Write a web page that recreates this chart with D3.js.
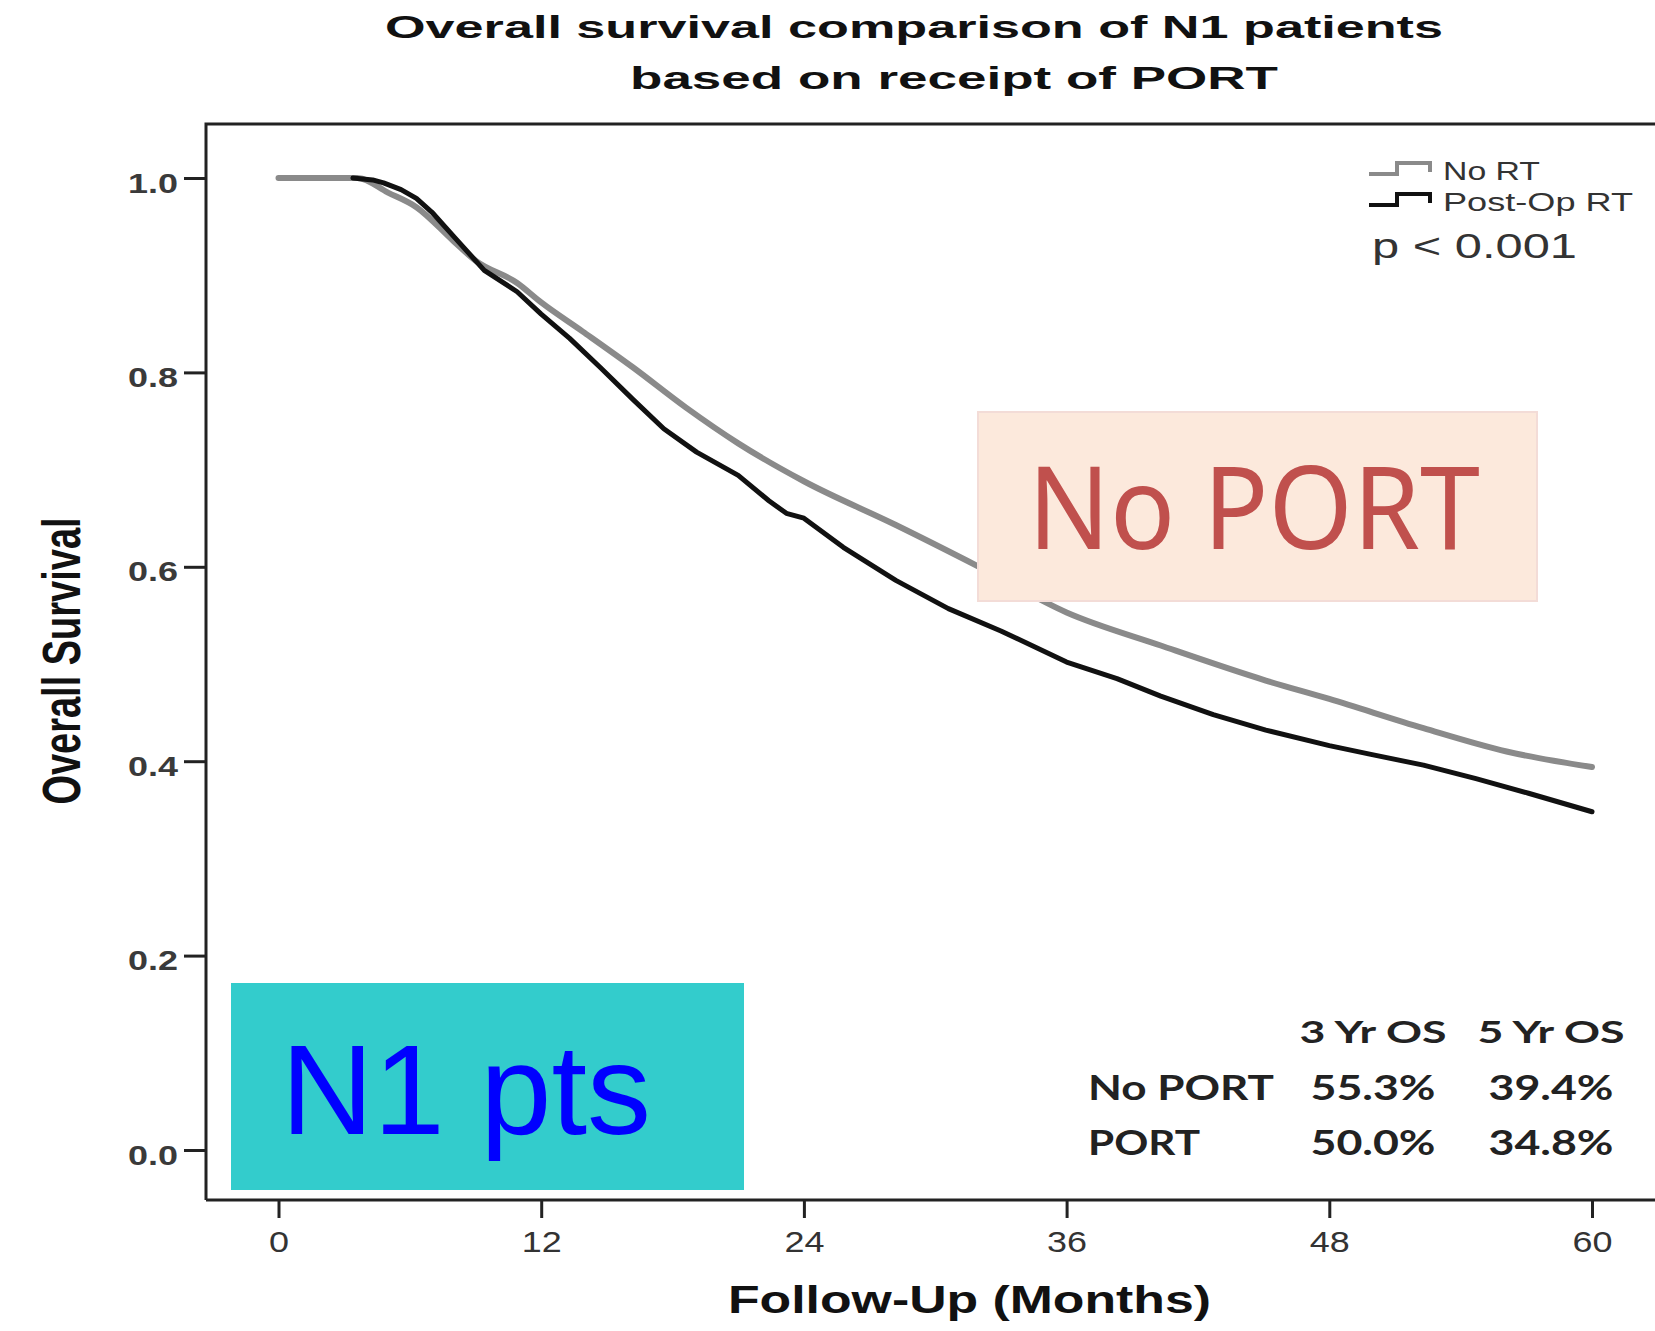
<!DOCTYPE html>
<html>
<head>
<meta charset="utf-8">
<script src="https://cdn.jsdelivr.net/npm/d3@7"></script>
<style>
  html, body { margin: 0; padding: 0; background: #fff; }
  svg { display: block; }
</style>
</head>
<body>
<div id="grafica"></div>
<script>
// Kaplan-Meier curves (months, survival)
const noRtMonths   = [0, 3.6, 5.0, 6.3, 8.0, 9.0, 10.9, 12.0, 13.9, 16.2, 18.6, 21.0, 24.0, 28.2, 32.0, 36.0, 40.3, 45.1, 48.0, 52.3, 56.1, 60.0]
const noRtSurvival = [1.0, 1.0, 0.985, 0.970, 0.935, 0.915, 0.892, 0.872, 0.842, 0.805, 0.764, 0.727, 0.688, 0.643, 0.600, 0.553, 0.519, 0.483, 0.464, 0.434, 0.410, 0.394]

const postOpMonths   = [3.4, 4.3, 4.8, 5.6, 6.3, 7.0, 8.0, 9.4, 10.9, 12.0, 13.3, 14.7, 16.2, 17.6, 19.1, 21.0, 22.4, 23.2, 24.0, 25.8, 28.2, 30.6, 33.0, 36.0, 38.3, 40.3, 42.7, 45.1, 48.0, 49.9, 52.3, 54.7, 57.1, 60.0]
const postOpSurvival = [1.0, 0.998, 0.995, 0.988, 0.979, 0.965, 0.940, 0.905, 0.883, 0.860, 0.835, 0.805, 0.772, 0.742, 0.718, 0.694, 0.668, 0.655, 0.650, 0.620, 0.586, 0.557, 0.534, 0.502, 0.485, 0.467, 0.448, 0.432, 0.416, 0.407, 0.396, 0.382, 0.367, 0.348]

const xTicks = [0, 12, 24, 36, 48, 60]
const yTicks = [0, 0.2, 0.4, 0.6, 0.8, 1.0]

const legendLabels = ["No RT", "Post-Op RT"]
const tableCols = ["3 Yr OS", "5 Yr OS"]
const tableRows = ["No PORT", "PORT"]
const tableValues = [["55.3%", "39.4%"], ["50.0%", "34.8%"]]

const width = 1655
const height = 1331

// frame of the plot
const frameLeft = 206, frameTop = 124, frameBottom = 1200

const xScale = d3.scaleLinear().domain([0, 60]).range([278.5, 1592])
const yScale = d3.scaleLinear().domain([0, 1]).range([1150, 178])

const svg = d3.select('#grafica')
  .append("svg")
  .attr("width", width)
  .attr("height", height)
  .style("font-family", "'Liberation Sans', Arial, sans-serif")

svg.append("rect").attr("width", width).attr("height", height).attr("fill", "#fff")

// title (the original picture is stretched sideways)
svg.append("text")
  .attr("x", 385).attr("y", 38)
  .attr("font-size", 32).attr("font-weight", "bold").attr("fill", "#111")
  .attr("textLength", 1058).attr("lengthAdjust", "spacingAndGlyphs")
  .text("Overall survival comparison of N1 patients")
svg.append("text")
  .attr("x", 630).attr("y", 89)
  .attr("font-size", 32).attr("font-weight", "bold").attr("fill", "#111")
  .attr("textLength", 648).attr("lengthAdjust", "spacingAndGlyphs")
  .text("based on receipt of PORT")

// frame lines
svg.append("path")
  .attr("d", `M${frameLeft},${frameBottom}V${frameTop}H${width + 5}`)
  .attr("fill", "none").attr("stroke", "#222").attr("stroke-width", 3)
svg.append("path")
  .attr("d", `M${frameLeft},${frameBottom}H${width + 5}`)
  .attr("fill", "none").attr("stroke", "#222").attr("stroke-width", 3)

// axes
const yAxis = d3.axisLeft(yScale)
  .tickValues(yTicks)
  .tickFormat(d3.format(".1f"))
  .tickSize(22).tickSizeOuter(0).tickPadding(6)

const gy = svg.append("g")
  .attr("transform", "translate(" + frameLeft + ",0)")
  .call(yAxis)
gy.select(".domain").remove()
gy.selectAll(".tick line").attr("stroke", "#222").attr("stroke-width", 3)
gy.selectAll(".tick text")
  .attr("font-size", 28).attr("font-weight", "bold").attr("fill", "#3a3a3a")
  .attr("font-family", "'Liberation Sans', Arial, sans-serif")
  .attr("dy", "0.5em")
  .attr("textLength", 50).attr("lengthAdjust", "spacingAndGlyphs")

const xAxis = d3.axisBottom(xScale)
  .tickValues(xTicks)
  .tickSize(18).tickSizeOuter(0).tickPadding(13)

const gx = svg.append("g")
  .attr("transform", "translate(0," + frameBottom + ")")
  .call(xAxis)
gx.select(".domain").remove()
gx.selectAll(".tick line").attr("stroke", "#222").attr("stroke-width", 3)
gx.selectAll(".tick text")
  .attr("font-size", 30).attr("fill", "#333")
  .attr("font-family", "'Liberation Sans', Arial, sans-serif")
  .attr("textLength", d => String(d).length * 20).attr("lengthAdjust", "spacingAndGlyphs")

// axis titles
svg.append("text")
  .attr("x", 728).attr("y", 1313)
  .attr("font-size", 38).attr("font-weight", "bold").attr("fill", "#111")
  .attr("textLength", 483).attr("lengthAdjust", "spacingAndGlyphs")
  .text("Follow-Up (Months)")

svg.append("text")
  .attr("transform", "translate(80,661) scale(1.4,1) rotate(-90)")
  .attr("text-anchor", "middle")
  .attr("font-size", 38).attr("font-weight", "bold").attr("fill", "#111")
  .text("Overall Survival")

// curves
const noRtData = noRtMonths.map((m, i) => [m, noRtSurvival[i]])
const postOpData = postOpMonths.map((m, i) => [m, postOpSurvival[i]])

svg.append("path")
  .datum(noRtData)
  .attr("fill", "none").attr("stroke", "#8a8a8a").attr("stroke-width", 6)
  .attr("stroke-linecap", "round").attr("stroke-linejoin", "round")
  .attr("d", d3.line().x(d => xScale(d[0])).y(d => yScale(d[1])).curve(d3.curveMonotoneX))

svg.append("path")
  .datum(postOpData)
  .attr("fill", "none").attr("stroke", "#111").attr("stroke-width", 5)
  .attr("stroke-linecap", "round").attr("stroke-linejoin", "round")
  .attr("d", d3.line().x(d => xScale(d[0])).y(d => yScale(d[1])))

// legend
const legendColors = ["#8a8a8a", "#111"]
const legendY = [174, 205]
legendLabels.forEach((lab, i) => {
  const y0 = legendY[i]
  svg.append("path")
    .attr("d", `M1369,${y0}H1397V${y0 - 11}H1430V${y0 - 2}`)
    .attr("fill", "none").attr("stroke", legendColors[i]).attr("stroke-width", 4)
  svg.append("text")
    .attr("x", 1443).attr("y", y0 + 6)
    .attr("font-size", 25).attr("fill", "#333")
    .attr("textLength", i == 0 ? 97 : 190).attr("lengthAdjust", "spacingAndGlyphs")
    .text(lab)
})
svg.append("text")
  .attr("x", 1372).attr("y", 258)
  .attr("font-size", 35).attr("fill", "#333")
  .attr("textLength", 205).attr("lengthAdjust", "spacingAndGlyphs")
  .text("p < 0.001")

// table of 3 / 5 year survival
const colCenters = [1373, 1551]
tableCols.forEach((c, j) => {
  svg.append("text")
    .attr("x", colCenters[j]).attr("y", 1043).attr("text-anchor", "middle")
    .attr("font-family", "Lato, 'Open Sans', sans-serif")
    .attr("font-size", 30).attr("font-weight", "bold").attr("fill", "#222")
    .attr("textLength", 147).attr("lengthAdjust", "spacingAndGlyphs")
    .text(c)
})
const rowBase = [1100, 1155]
tableRows.forEach((r, i) => {
  svg.append("text")
    .attr("x", 1088).attr("y", rowBase[i])
    .attr("font-family", "Lato, 'Open Sans', sans-serif")
    .attr("font-size", 34).attr("font-weight", "bold").attr("fill", "#222")
    .attr("textLength", i == 0 ? 186 : 112).attr("lengthAdjust", "spacingAndGlyphs")
    .text(r)
  tableValues[i].forEach((v, j) => {
    svg.append("text")
      .attr("x", colCenters[j]).attr("y", rowBase[i]).attr("text-anchor", "middle")
      .attr("font-family", "Lato, 'Open Sans', sans-serif")
      .attr("font-size", 34).attr("font-weight", "bold").attr("fill", "#222")
      .attr("textLength", 125).attr("lengthAdjust", "spacingAndGlyphs")
      .text(v)
  })
})

// pasted-on labels
svg.append("rect")
  .attr("x", 978).attr("y", 412).attr("width", 559).attr("height", 189)
  .attr("fill", "#fce9dc").attr("stroke", "#f3dcd7").attr("stroke-width", 2)
svg.append("text")
  .attr("x", 1028).attr("y", 549)
  .attr("font-family", "'Noto Sans', 'Open Sans', sans-serif")
  .attr("font-size", 116).attr("fill", "#c0504d")
  .attr("textLength", 452).attr("lengthAdjust", "spacingAndGlyphs")
  .text("No PORT")

svg.append("rect")
  .attr("x", 231).attr("y", 983).attr("width", 513).attr("height", 207)
  .attr("fill", "#33cccc")
svg.append("text")
  .attr("x", 281).attr("y", 1134)
  .attr("font-size", 128).attr("fill", "#0000ff")
  .text("N1 pts")
</script>
</body>
</html>
